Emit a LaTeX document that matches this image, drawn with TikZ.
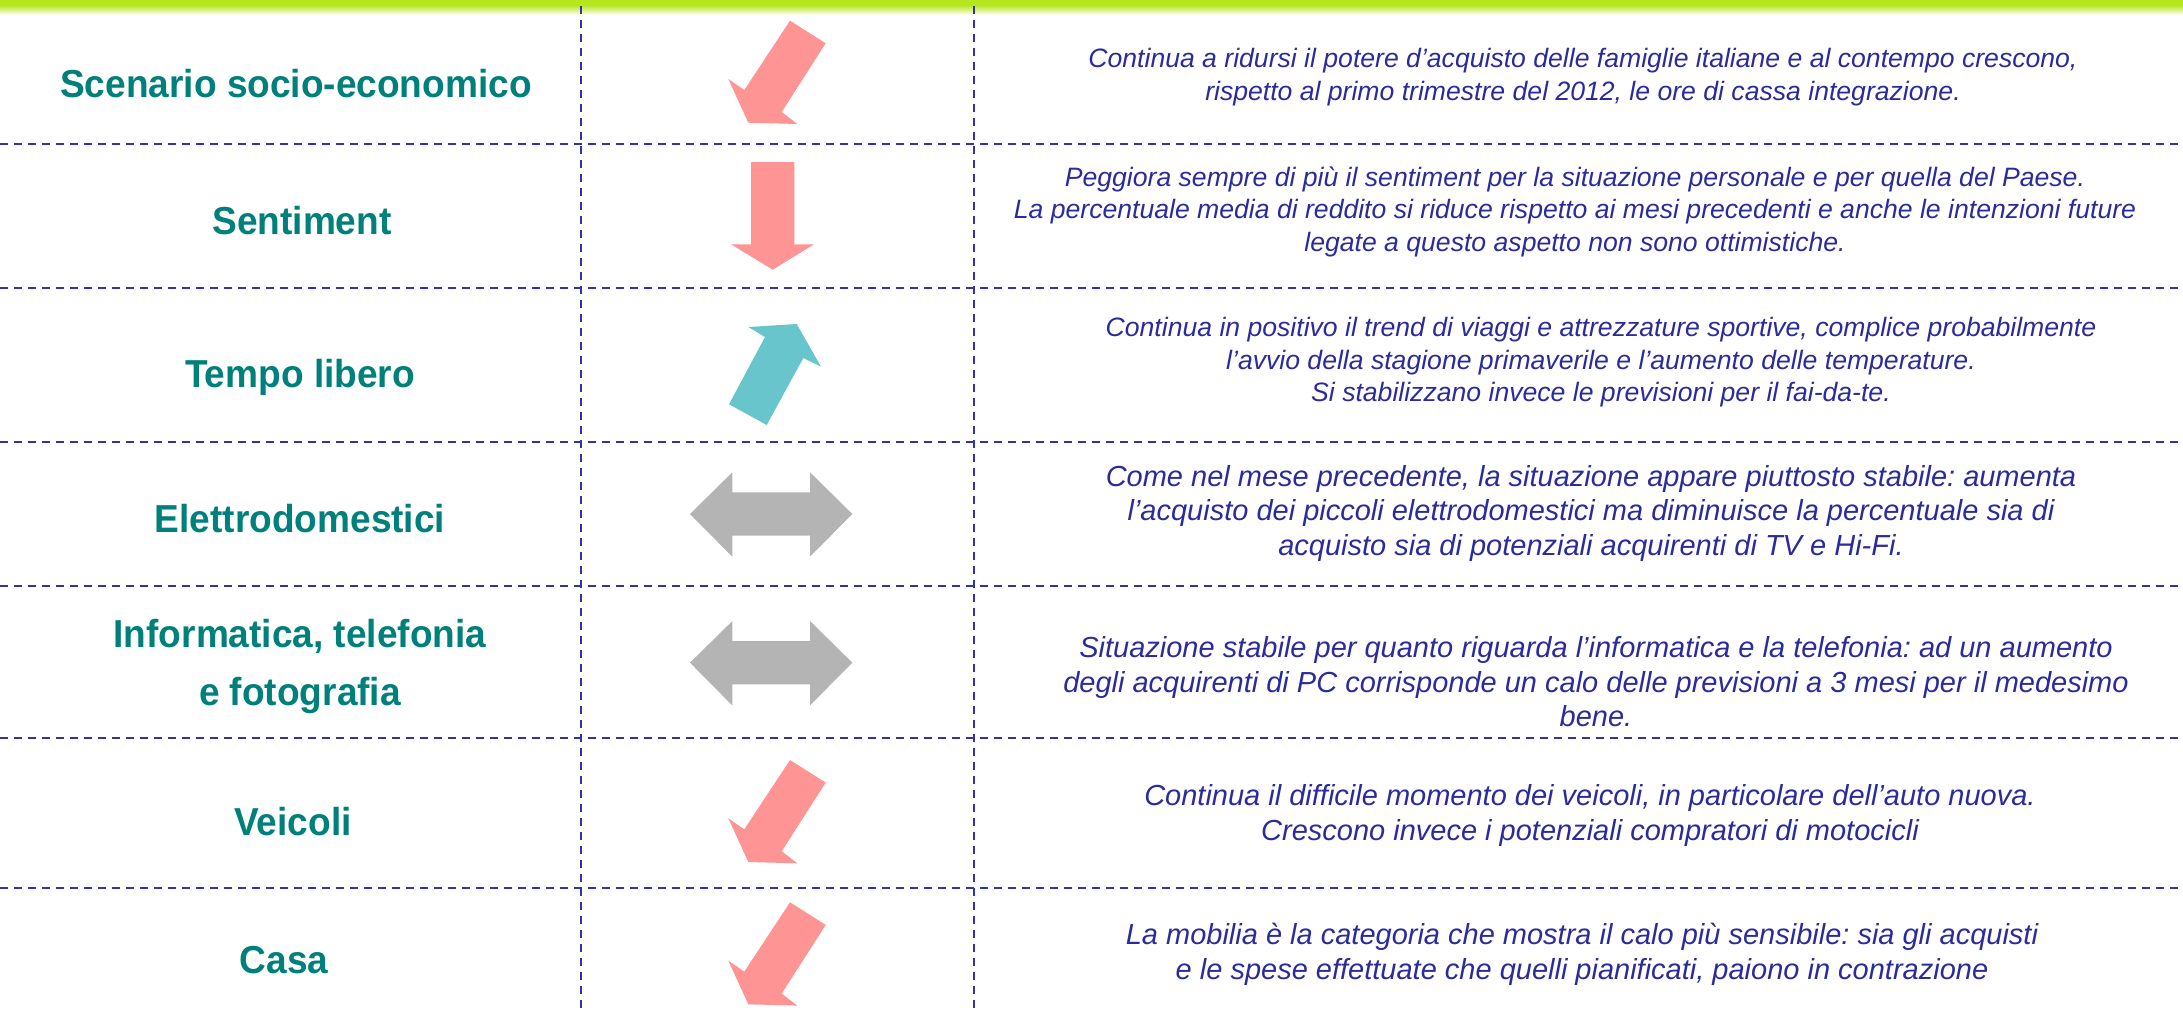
\documentclass[tikz,border=0pt]{standalone}
\usepackage{fontspec}
\setmainfont{Liberation Sans}
\newfontfamily\labelfont{Liberation Sans}[FakeStretch=0.95]
\definecolor{bargreen}{RGB}{182,230,30}
\definecolor{gridblue}{RGB}{50,50,170}
\definecolor{labteal}{RGB}{0,128,122}
\definecolor{txtblue}{RGB}{43,43,155}
\definecolor{arrpink}{RGB}{255,148,148}
\definecolor{arrteal}{RGB}{103,197,203}
\definecolor{arrgray}{RGB}{180,180,180}
\frenchspacing
\begin{document}
\begin{tikzpicture}[x=1pt,y=-1pt,
  gridline/.style={draw=gridblue, line width=2.2pt, dash pattern=on 8.4pt off 5.6pt},
  lab/.style={text=labteal, font=\labelfont\bfseries\fontsize{39}{58}\selectfont, align=center, inner sep=0pt},
  descA/.style={text=txtblue, font=\itshape\fontsize{26.6}{32.5}\selectfont, align=center, inner sep=0pt},
  descB/.style={text=txtblue, font=\itshape\fontsize{29}{34.5}\selectfont, align=center, inner sep=0pt},
  downleft/.pic={\fill[arrpink] (790,20.7) -- (825.7,43.3) -- (781.7,112.0) -- (797.3,124.0) -- (748.3,122.7) -- (728.3,79.0) -- (744.3,90.0) -- cycle;},
  twoway/.pic={\fill[arrgray] (690,514) -- (732.3,472.3) -- (732.3,492.3) -- (810,492.3) -- (810,472.3) -- (852.3,514) -- (810,556.7) -- (810,535.7) -- (732.3,535.7) -- (732.3,556.7) -- cycle;}
]
\useasboundingbox (0,0) rectangle (2183,1012);
\fill[white] (0,0) rectangle (2183,1012);
% top bar
\fill[bargreen] (0,0) rectangle (2183,5);
\shade[top color=bargreen, bottom color=white] (0,5) rectangle (2183,15);
% grid
\foreach \yy in {144,288,442,586,738,888}
  \draw[gridline] (0,\yy) -- (2183,\yy);
\foreach \xx in {581,974}
  \draw[gridline] (\xx,6) -- (\xx,1012);
% labels
\node[lab, anchor=base] (l1) at (296,97) {Scenario socio-economico};
\node[lab, anchor=base] (l2) at (302,234) {Sentiment};
\node[lab, anchor=base] (l3) at (300,387) {Tempo libero};
\node[lab, anchor=base] (l4) at (300,532) {Elettrodomestici};
\node[lab] (l5) at (300,666) {Informatica, telefonia\\e fotografia};
\node[lab, anchor=base] (l6) at (293,835) {Veicoli};
\node[lab, anchor=base] (l7) at (284,973) {Casa};
% arrows
\pic {downleft};
\fill[arrpink] (751,162) -- (794.3,162) -- (794.3,244.3) -- (814,244.3) -- (772.7,269.7) -- (731,244.3) -- (751,244.3) -- cycle;
\fill[arrteal] (729,404.3) -- (766.7,425) -- (803.3,358) -- (821,366.7) -- (796.7,324) -- (748.3,327) -- (765,337) -- cycle;
\pic {twoway};
\pic at (0,148.7) {twoway};
\pic at (0,739.3) {downleft};
\pic at (0,881.6) {downleft};
% descriptions
\node[descA] (t1) at (1583,77) {Continua a ridursi il potere d’acquisto delle famiglie italiane e al contempo crescono,\\rispetto al primo trimestre del 2012, le ore di cassa integrazione.};
\node[descA] (t2) at (1575,211.5) {Peggiora sempre di più il sentiment per la situazione personale e per quella del Paese.\\La percentuale media di reddito si riduce rispetto ai mesi precedenti e anche le intenzioni future\\legate a questo aspetto non sono ottimistiche.};
\node[descA] (t3) at (1601,362.5) {Continua in positivo il trend di viaggi e attrezzature sportive, complice probabilmente\\l’avvio della stagione primaverile e l’aumento delle temperature.\\Si stabilizzano invece le previsioni per il fai-da-te.};
\node[descB] (t4) at (1591,513) {Come nel mese precedente, la situazione appare piuttosto stabile: aumenta\\l’acquisto dei piccoli elettrodomestici ma diminuisce la percentuale sia di\\acquisto sia di potenziali acquirenti di TV e Hi-Fi.};
\node[descB] (t5) at (1596,682) {Situazione stabile per quanto riguarda l’informatica e la telefonia: ad un aumento\\degli acquirenti di PC corrisponde un calo delle previsioni a 3 mesi per il medesimo\\bene.};
\node[descB] (t6) at (1590,815.5) {Continua il difficile momento dei veicoli, in particolare dell’auto nuova.\\Crescono invece i potenziali compratori di motocicli};
\node[descB] (t7) at (1582,954.5) {La mobilia è la categoria che mostra il calo più sensibile: sia gli acquisti\\e le spese effettuate che quelli pianificati, paiono in contrazione};
\end{tikzpicture}
\end{document}
